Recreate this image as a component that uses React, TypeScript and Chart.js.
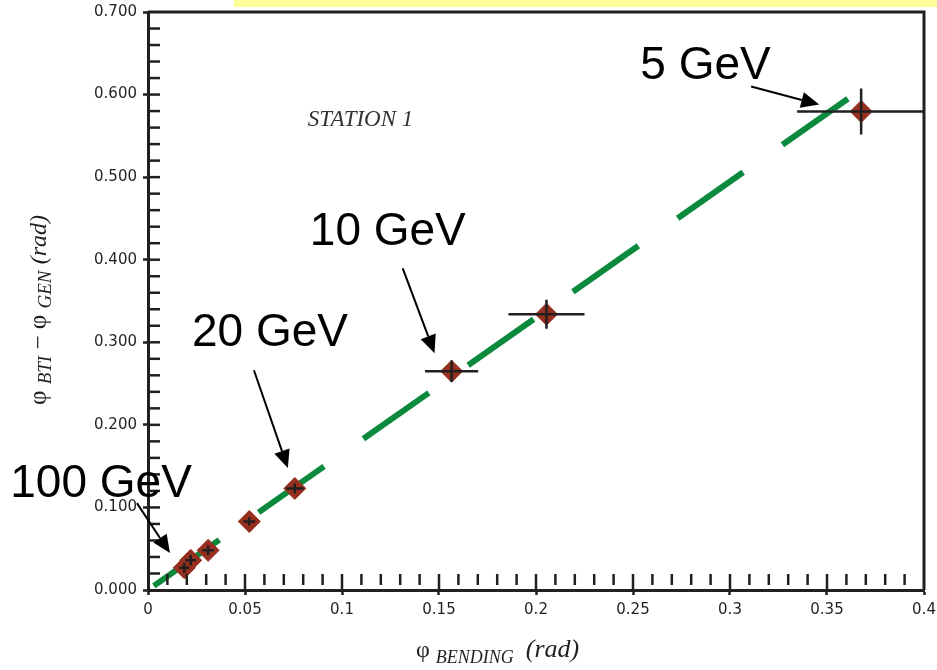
import React, { useEffect, useRef } from "react";
import { Chart, registerables } from "chart.js";

Chart.register(...registerables);

// ---- data ----
const phiBending = [0.0187, 0.022, 0.031, 0.0522, 0.0757, 0.1565, 0.2054, 0.3676];
const phiDiff = [0.027, 0.036, 0.048, 0.083, 0.123, 0.265, 0.334, 0.5795];
const errX = [0.0025, 0.0027, 0.003, 0.003, 0.0045, 0.0137, 0.0196, 0.033];
const errY = [0.006, 0.006, 0.006, 0.005, 0.006, 0.013, 0.0175, 0.028];

const fitX = [0.003, 0.3614];
const fitY = [0.005, 0.596];

const labelTexts = ["5 GeV", "10 GeV", "20 GeV", "100 GeV"];
const labelX = [0.2538, 0.0834, 0.02265, -0.071];
const labelY = [0.6193, 0.4173, 0.2951, 0.1125];
const arrowFromX = [0.3109, 0.1313, 0.0546, -0.0057];
const arrowFromY = [0.6097, 0.3895, 0.2661, 0.1052];
const arrowToX = [0.346, 0.1477, 0.0721, 0.0113];
const arrowToY = [0.5879, 0.2867, 0.1476, 0.0447];

const stationText = "STATION 1";
const stationX = 0.0824;
const stationY = 0.5625;

const xMin = 0;
const xMax = 0.4;
const xMajorStep = 0.05;
const xMinorStep = 0.01;
const yMin = 0;
const yMax = 0.7;
const yMajorStep = 0.1;
const yMinorStep = 0.02;

const INK = "#231f20";

type Part = { text: string; font: string; dy: number };

function drawParts(ctx: CanvasRenderingContext2D, parts: Part[], x: number, y: number, center: boolean) {
  let total = 0;
  const widths = parts.map((p) => {
    ctx.font = p.font;
    const w = ctx.measureText(p.text).width;
    total += w;
    return w;
  });
  let cx = center ? x - total / 2 : x;
  parts.forEach((p, i) => {
    ctx.font = p.font;
    ctx.fillText(p.text, cx, y + p.dy);
    cx += widths[i];
  });
}

const decorPlugin = {
  id: "decor",
  beforeDraw(chart: any) {
    const ctx = chart.ctx as CanvasRenderingContext2D;
    ctx.save();
    ctx.fillStyle = "#ffff99";
    ctx.fillRect(234, 0, chart.width - 234, 7);
    ctx.restore();
  },
  afterDatasetsDraw(chart: any) {
    const ctx = chart.ctx as CanvasRenderingContext2D;
    const xs = chart.scales.x;
    const ys = chart.scales.y;
    const a = chart.chartArea;
    ctx.save();
    ctx.beginPath();
    ctx.rect(a.left - 2, a.top - 2, a.right - a.left + 3, a.bottom - a.top + 4);
    ctx.clip();
    ctx.strokeStyle = INK;
    ctx.lineWidth = 2.5;
    for (let i = 0; i < phiBending.length; i++) {
      const px = xs.getPixelForValue(phiBending[i]);
      const py = ys.getPixelForValue(phiDiff[i]);
      const x1 = xs.getPixelForValue(phiBending[i] - errX[i]);
      const x2 = xs.getPixelForValue(phiBending[i] + errX[i]);
      const y1 = ys.getPixelForValue(phiDiff[i] - errY[i]);
      const y2 = ys.getPixelForValue(phiDiff[i] + errY[i]);
      ctx.beginPath();
      ctx.moveTo(x1, py);
      ctx.lineTo(x2, py);
      ctx.moveTo(px, y1);
      ctx.lineTo(px, y2);
      ctx.stroke();
    }
    ctx.restore();
  },
  afterDraw(chart: any) {
    const ctx = chart.ctx as CanvasRenderingContext2D;
    const xs = chart.scales.x;
    const ys = chart.scales.y;
    const a = chart.chartArea;
    ctx.save();
    // frame top & right
    ctx.strokeStyle = INK;
    ctx.lineWidth = 3;
    ctx.beginPath();
    ctx.moveTo(a.left, a.top);
    ctx.lineTo(a.right, a.top);
    ctx.lineTo(a.right, a.bottom);
    ctx.stroke();

    // minor inward ticks
    ctx.lineWidth = 2.5;
    const nx = Math.round((xMax - xMin) / xMinorStep);
    for (let i = 1; i < nx; i++) {
      const v = xMin + i * xMinorStep;
      const px = xs.getPixelForValue(v);
      const major = i % Math.round(xMajorStep / xMinorStep) === 0;
      ctx.beginPath();
      ctx.moveTo(px, a.bottom - 16);
      ctx.lineTo(px, major ? a.bottom : a.bottom - 5);
      ctx.stroke();
    }
    const ny = Math.round((yMax - yMin) / yMinorStep);
    for (let i = 1; i < ny; i++) {
      const v = yMin + i * yMinorStep;
      const py = ys.getPixelForValue(v);
      ctx.beginPath();
      ctx.moveTo(a.left, py);
      ctx.lineTo(a.left + 12, py);
      ctx.stroke();
    }

    // arrows
    ctx.fillStyle = "#000";
    ctx.strokeStyle = "#000";
    for (let i = 0; i < arrowFromX.length; i++) {
      const x0 = xs.getPixelForValue(arrowFromX[i]);
      const y0 = ys.getPixelForValue(arrowFromY[i]);
      const x1 = xs.getPixelForValue(arrowToX[i]);
      const y1 = ys.getPixelForValue(arrowToY[i]);
      const ang = Math.atan2(y1 - y0, x1 - x0);
      const hl = 18;
      const hw = 8;
      const bx = x1 - hl * Math.cos(ang);
      const by = y1 - hl * Math.sin(ang);
      ctx.lineWidth = 2;
      ctx.beginPath();
      ctx.moveTo(x0, y0);
      ctx.lineTo(bx, by);
      ctx.stroke();
      ctx.beginPath();
      ctx.moveTo(x1, y1);
      ctx.lineTo(bx + hw * Math.sin(ang), by - hw * Math.cos(ang));
      ctx.lineTo(bx - hw * Math.sin(ang), by + hw * Math.cos(ang));
      ctx.closePath();
      ctx.fill();
    }

    // energy labels
    ctx.fillStyle = "#000";
    ctx.textBaseline = "alphabetic";
    ctx.textAlign = "left";
    ctx.font = "46px 'Liberation Sans', Arial, sans-serif";
    for (let i = 0; i < labelTexts.length; i++) {
      ctx.fillText(labelTexts[i], xs.getPixelForValue(labelX[i]), ys.getPixelForValue(labelY[i]));
    }

    // station text
    ctx.fillStyle = "#333";
    ctx.font = "italic 23px 'Liberation Serif', 'Times New Roman', serif";
    ctx.fillText(stationText, xs.getPixelForValue(stationX), ys.getPixelForValue(stationY));

    // axis titles
    ctx.fillStyle = INK;
    const big = "24px 'Liberation Serif', serif";
    const bigIt = "italic 26px 'Liberation Serif', serif";
    const sub = "italic 18px 'Liberation Serif', serif";
    drawParts(
      ctx,
      [
        { text: "φ", font: big, dy: 0 },
        { text: " ", font: big, dy: 0 },
        { text: "BENDING", font: sub, dy: 6 },
        { text: "  ", font: big, dy: 0 },
        { text: "(rad)", font: bigIt, dy: 0 },
      ],
      416,
      657,
      false
    );

    ctx.translate(46, 310);
    ctx.rotate(-Math.PI / 2);
    const yBig = "25px 'Liberation Serif', serif";
    const yIt = "italic 24px 'Liberation Serif', serif";
    const ySub = "italic 19px 'Liberation Serif', serif";
    drawParts(
      ctx,
      [
        { text: "φ", font: yBig, dy: 0 },
        { text: " ", font: yBig, dy: 0 },
        { text: "BTI", font: ySub, dy: 5 },
        { text: " − ", font: yBig, dy: 0 },
        { text: "φ", font: yBig, dy: 0 },
        { text: " ", font: yBig, dy: 0 },
        { text: "GEN", font: ySub, dy: 5 },
        { text: " ", font: yBig, dy: 0 },
        { text: "(rad)", font: yIt, dy: 0 },
      ],
      0,
      0,
      true
    );
    ctx.restore();
  },
};

export default function App() {
  const ref = useRef<HTMLCanvasElement | null>(null);
  useEffect(() => {
    if (!ref.current) return;
    const chart = new Chart(ref.current, {
      type: "scatter",
      data: {
        datasets: [
          {
            type: "scatter",
            label: "data",
            data: phiBending.map((x, i) => ({ x, y: phiDiff[i] })),
            pointStyle: "rectRot",
            pointRadius: 11,
            backgroundColor: "#962f1f",
            borderColor: "#962f1f",
            borderWidth: 1,
            order: 1,
          },
          {
            type: "line",
            label: "fit",
            data: fitX.map((x, i) => ({ x, y: fitY[i] })),
            borderColor: "#0b8a3e",
            borderWidth: 6,
            borderDash: [80, 48],
            pointRadius: 0,
            fill: false,
            order: 2,
          } as any,
        ],
      },
      options: {
        responsive: false,
        animation: false,
        layout: { padding: { top: 12, right: 13, left: 0, bottom: 0 } },
        plugins: { legend: { display: false }, tooltip: { enabled: false }, title: { display: false } },
        scales: {
          x: {
            type: "linear",
            min: xMin,
            max: xMax,
            afterFit: (s: any) => {
              s.height = 80;
              s.paddingLeft = 0;
              s.paddingRight = 0;
            },
            ticks: {
              stepSize: xMajorStep,
              padding: 6,
              color: INK,
              font: { family: "'DejaVu Sans', Verdana, sans-serif", size: 15 },
              callback: (v: any) => String(+Number(v).toFixed(2)),
            },
            grid: { drawOnChartArea: false, drawTicks: true, tickLength: 5, tickWidth: 2.5, color: INK },
            border: { display: true, width: 3, color: INK },
          },
          y: {
            type: "linear",
            min: yMin,
            max: yMax,
            afterFit: (s: any) => {
              s.width = 148;
              s.paddingTop = 0;
              s.paddingBottom = 0;
            },
            ticks: {
              stepSize: yMajorStep,
              padding: 6,
              color: INK,
              font: { family: "'DejaVu Sans', Verdana, sans-serif", size: 15 },
              callback: (v: any) => Number(v).toFixed(3),
            },
            grid: { drawOnChartArea: false, drawTicks: true, tickLength: 5, tickWidth: 2.5, color: INK },
            border: { display: true, width: 3, color: INK },
          },
        },
      },
      plugins: [decorPlugin],
    });
    return () => chart.destroy();
  }, []);
  return (
    <div style={{ position: "fixed", left: 0, top: 0, width: 937, height: 670, background: "#fff" }}>
      <canvas ref={ref} width={937} height={670} />
    </div>
  );
}
